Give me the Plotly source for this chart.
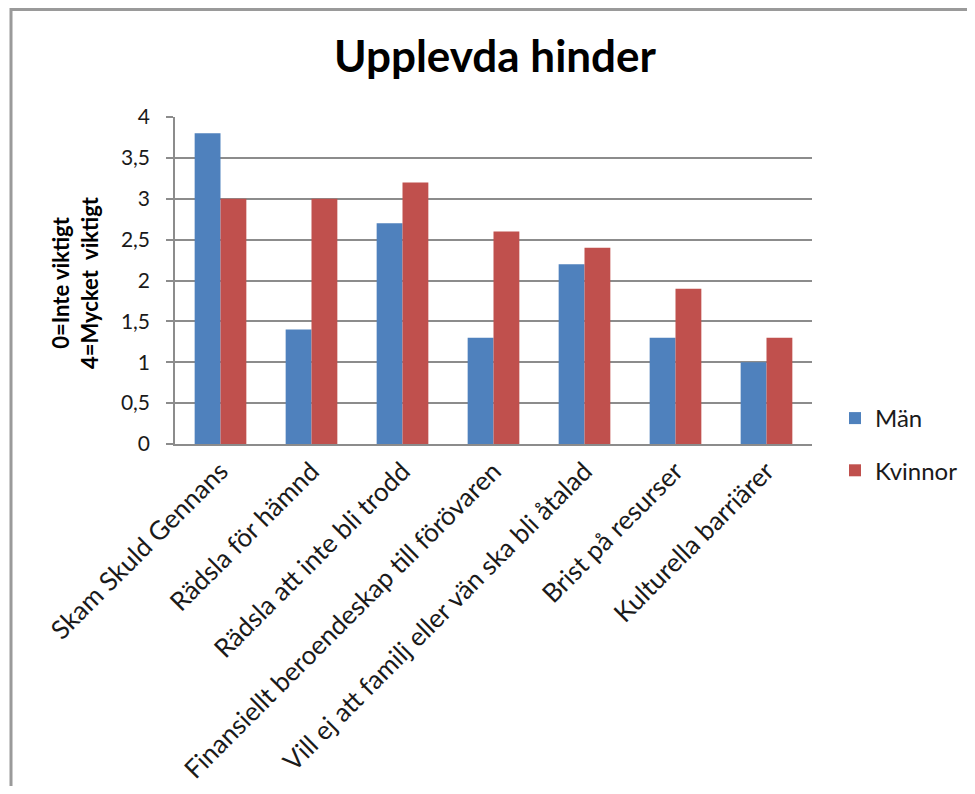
import plotly.graph_objects as go

categories = ["Skam Skuld Gennans", "Rädsla för hämnd", "Rädsla att inte bli trodd",
              "Finansiellt beroendeskap till förövaren", "Vill ej att familj eller vän ska bli åtalad",
              "Brist på resurser", "Kulturella barriärer"]
man_values = [3.8, 1.4, 2.7, 1.3, 2.2, 1.3, 1.0]
kvinnor_values = [3.0, 3.0, 3.2, 2.6, 2.4, 1.9, 1.3]
series_names = ["Män", "Kvinnor"]
y_ticks = [0, 0.5, 1, 1.5, 2, 2.5, 3, 3.5, 4]

FONT = "Lato, Calibri, sans-serif"
OFF = 8  # page body margin
W, H = 975 - 2 * OFF, 794 - 2 * OFF
L = 175 - OFF
T = 117 - OFF
R = W - (812 - OFF)
B = H - (444 - OFF)
pw, ph = W - L - R, H - T - B

def fx(px):  # page px -> paper x
    return (px - OFF - L) / pw

def fy(py):  # page px -> paper y
    return (H - B - (py - OFF)) / ph

fig = go.Figure()
fig.add_trace(go.Bar(x=categories, y=man_values, name=series_names[0],
                     marker=dict(color="#4F81BD", line=dict(width=0)), legendgroup="a"))
fig.add_trace(go.Bar(x=categories, y=kvinnor_values, name=series_names[1],
                     marker=dict(color="#C0504D", line=dict(width=0)), legendgroup="b"))

fig.update_layout(
    width=W, height=H,
    margin=dict(l=L, r=R, t=T, b=B, autoexpand=False),
    paper_bgcolor="white", plot_bgcolor="white",
    separators=",.",
    barmode="group", bargap=0.432, bargroupgap=0,
    font=dict(family=FONT, color="#1a1a1a"),
    title=dict(text="<b>Upplevda hinder</b>", x=fx(495), xref="paper",
               y=1 - (57 - OFF) / H, yref="container", xanchor="center", yanchor="middle",
               font=dict(size=44, family=FONT, color="black")),
    legend=dict(x=fx(835), y=fy(396), xanchor="left", yanchor="top",
                font=dict(size=24, family=FONT, color="#1a1a1a"), tracegroupgap=18,
                bgcolor="rgba(0,0,0,0)"),
    xaxis=dict(tickangle=-45, tickfont=dict(size=26, family=FONT, color="#1a1a1a"),
               showline=True, linecolor="#8c8c8c", linewidth=1.5, showgrid=False,
               ticks="", fixedrange=True),
    yaxis=dict(range=[0, 4], tickvals=y_ticks, tickfont=dict(size=21, family=FONT, color="#1a1a1a"),
               showgrid=True, gridcolor="#8c8c8c", gridwidth=1.5,
               showline=True, linecolor="#8c8c8c", linewidth=1.5,
               ticks="outside", ticklen=7, tickcolor="#8c8c8c", tickwidth=1.5,
               ticklabelstandoff=12, zeroline=False, fixedrange=True),
    annotations=[dict(text="<b>0=Inte viktigt<br>4=Mycket  viktigt</b>", textangle=-90,
                      x=fx(75), y=fy(283), xref="paper", yref="paper",
                      xanchor="center", yanchor="middle", showarrow=False,
                      font=dict(size=22, family=FONT, color="black"))],
    shapes=[
        dict(type="line", xref="paper", yref="paper", x0=fx(11), x1=fx(11),
             y0=fy(6), y1=fy(800), line=dict(color="#9a9a9a", width=3)),
        dict(type="line", xref="paper", yref="paper", x0=fx(10), x1=fx(980),
             y0=fy(9.5), y1=fy(9.5), line=dict(color="#9a9a9a", width=3)),
    ],
)

fig.write_html("out.html")
